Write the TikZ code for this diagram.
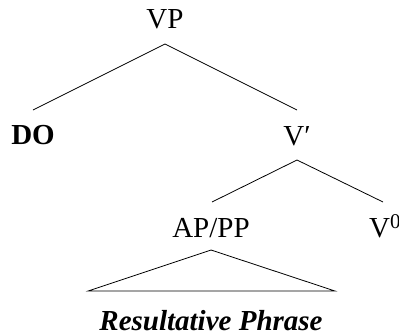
\documentclass[tikz,border=0pt]{standalone}
\usepackage{fontspec}
\setmainfont{Liberation Serif}
\begin{document}
\begin{tikzpicture}[x=1pt,y=-1pt,
  lbl/.style={inner sep=0pt,anchor=base,font=\fontsize{29}{34}\selectfont},
  edge/.style={line width=0.8pt,black}]
\useasboundingbox (0,0) rectangle (399,335);
\node[lbl] (vp) at (165,28) {VP};
\node[lbl] (do) at (33,144) {\bfseries DO};
\node[lbl] (vbar) at (297,145) {V′};
\node[lbl,anchor=base west] (v0) at (369,237) {V\raisebox{9pt}{\fontsize{21}{24}\selectfont 0}};
\node[lbl] (res) at (211,330) {\bfseries\itshape Resultative Phrase};
\node[lbl] (appp) at (211,237) {AP/PP};
\coordinate (vpB) at (165,44);
\coordinate (doT) at (33,110);
\coordinate (vbarT) at (297,110);
\coordinate (vbarB) at (297,160);
\coordinate (apT) at (212,202);
\coordinate (v0T) at (383,202);
\coordinate (triA) at (211,250);
\coordinate (triL) at (88,291);
\coordinate (triR) at (335,291);
\draw[edge] (doT) -- (vpB) -- (vbarT);
\draw[edge] (apT) -- (vbarB) -- (v0T);
\draw[edge] (triL) -- (triA) -- (triR) -- cycle;
\end{tikzpicture}
\end{document}
